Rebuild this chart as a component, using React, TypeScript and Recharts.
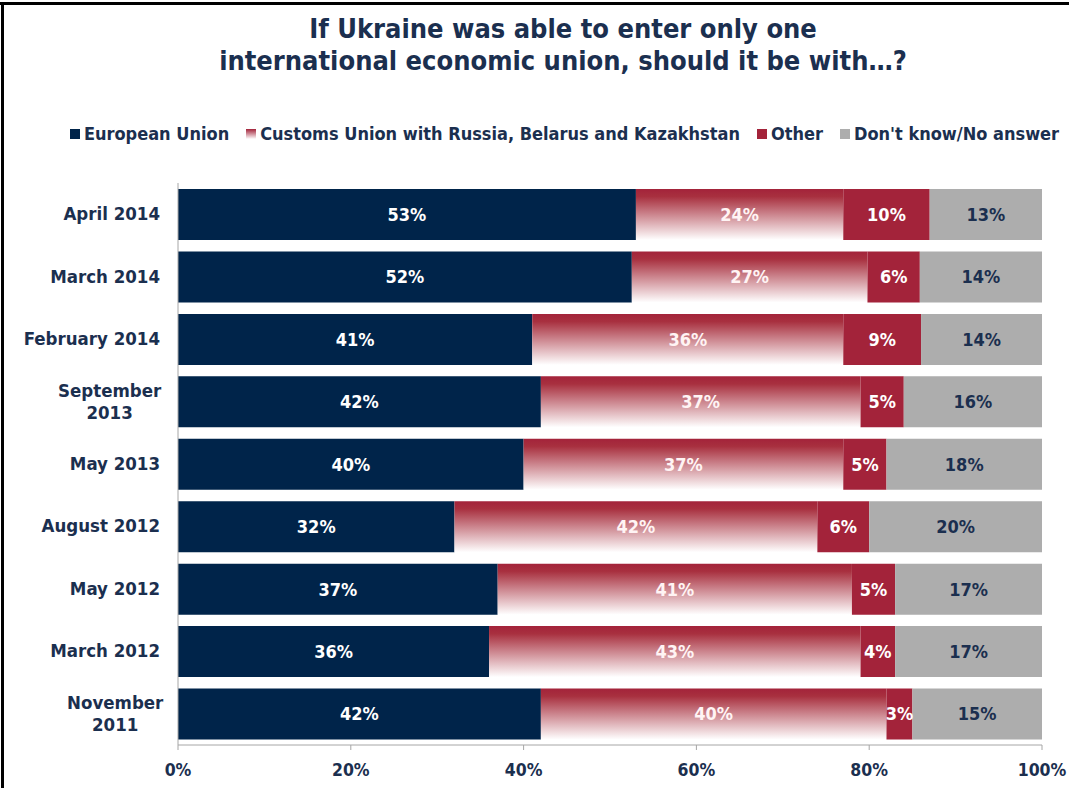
import { BarChart, Bar, XAxis, YAxis, LabelList } from "recharts"

const periods = [
  "April 2014",
  "March 2014",
  "February 2014",
  "September\n2013",
  "May 2013",
  "August 2012",
  "May 2012",
  "March 2012",
  "November\n2011",
]
const euValues = [53, 52, 41, 42, 40, 32, 37, 36, 42]
const customsValues = [24, 27, 36, 37, 37, 42, 41, 43, 40]
const otherValues = [10, 6, 9, 5, 5, 6, 5, 4, 3]
const dontKnowValues = [13, 14, 14, 16, 18, 20, 17, 17, 15]
const xTicks = [0, 0.2, 0.4, 0.6, 0.8, 1]

const seriesNames = [
  "European Union",
  "Customs Union with Russia, Belarus and Kazakhstan",
  "Other",
  "Don't know/No answer",
]

const data = periods.map((period, i) => ({
  period,
  eu: euValues[i],
  customs: customsValues[i],
  other: otherValues[i],
  dontKnow: dontKnowValues[i],
}))

const FONT = '"DejaVu Sans Condensed", "DejaVu Sans", sans-serif'
const NAVY = "#1b2f4f"
const EU_COLOR = "#00244a"
const RED = "#a3233a"
const GREY = "#adadad"

const pct = (v: any) => `${v}%`

function PeriodTick({ x, y, payload }: any) {
  const lines = String(payload.value).split("\n")
  if (lines.length === 1) {
    return (
      <text x={x} y={y} dy={6} textAnchor="end" fill={NAVY} fontSize={18.5} fontWeight="bold" fontFamily={FONT}>
        {payload.value}
      </text>
    )
  }
  const cx = x - lines[0].length * 5.6
  return (
    <text x={cx} y={y} textAnchor="middle" fill={NAVY} fontSize={18.5} fontWeight="bold" fontFamily={FONT}>
      {lines.map((l, k) => (
        <tspan key={k} x={cx} dy={k === 0 ? -5 : 22}>
          {l}
        </tspan>
      ))}
    </text>
  )
}

function Legend() {
  const swatches = [EU_COLOR, "url(#swatchGrad)", RED, GREY]
  return (
    <div
      style={{
        position: "absolute",
        top: 123,
        left: 60,
        width: 1009,
        display: "flex",
        justifyContent: "center",
        gap: 17,
        fontFamily: FONT,
        fontWeight: "bold",
        fontSize: 18,
        color: NAVY,
        whiteSpace: "nowrap",
      }}
    >
      {seriesNames.map((name, i) => (
        <div key={name} style={{ display: "flex", alignItems: "center", gap: 4 }}>
          <svg width={10} height={10}>
            <defs>
              <linearGradient id="swatchGrad" x1="0" y1="0" x2="0" y2="1">
                <stop offset="0" stopColor={RED} />
                <stop offset="1" stopColor="#ffffff" />
              </linearGradient>
            </defs>
            <rect width={10} height={10} fill={swatches[i]} />
          </svg>
          <span>{name}</span>
        </div>
      ))}
    </div>
  )
}

export default function App() {
  return (
    <div style={{ position: "absolute", top: 0, left: 0, width: 1069, height: 788, background: "#fff", overflow: "hidden" }}>
      <div style={{ position: "absolute", top: 2, left: 0, width: 1069, height: 3, background: "#000" }} />
      <div style={{ position: "absolute", top: 2, left: 1, width: 3, height: 786, background: "#000" }} />
      <div
        style={{
          position: "absolute",
          top: 13,
          left: 163,
          width: 800,
          textAlign: "center",
          fontFamily: FONT,
          fontWeight: "bold",
          fontSize: 27,
          lineHeight: "32px",
          color: NAVY,
        }}
      >
        If Ukraine was able to enter only one
        <br />
        international economic union, should it be with…?
      </div>
      <Legend />
      <BarChart
        width={1069}
        height={788}
        data={data}
        layout="vertical"
        stackOffset="expand"
        margin={{ top: 183, right: 27, bottom: 0, left: 0 }}
        style={{ position: "absolute", top: 0, left: 0 }}
      >
        <defs>
          <linearGradient id="customsGrad" x1="0" y1="0" x2="0" y2="1">
            <stop offset="0" stopColor={RED} />
            <stop offset="0.15" stopColor="#a8303f" />
            <stop offset="1" stopColor="#ffffff" />
          </linearGradient>
        </defs>
        <XAxis
          type="number"
          domain={[0, 1]}
          ticks={xTicks}
          tickFormatter={(v: number) => `${Math.round(v * 100)}%`}
          stroke="#a6a6a6"
          tickSize={5}
          tickMargin={14}
          tick={{ fill: NAVY, fontSize: 17.5, fontWeight: "bold", fontFamily: FONT }}
          height={43}
        />
        <YAxis
          type="category"
          dataKey="period"
          width={178}
          stroke="#a6a6a6"
          tickLine={false}
          tick={(props: any) => <PeriodTick {...props} x={160} />}
        />
        <Bar dataKey="eu" stackId="a" fill={EU_COLOR} barSize={51} isAnimationActive={false}>
          <LabelList dataKey="eu" position="center" formatter={pct} fill="#ffffff" fontSize={18} fontWeight="bold" fontFamily={FONT} />
        </Bar>
        <Bar dataKey="customs" stackId="a" fill="url(#customsGrad)" barSize={51} isAnimationActive={false}>
          <LabelList dataKey="customs" position="center" formatter={pct} fill="#fff4f4" fontSize={18} fontWeight="bold" fontFamily={FONT} />
        </Bar>
        <Bar dataKey="other" stackId="a" fill={RED} barSize={51} isAnimationActive={false}>
          <LabelList dataKey="other" position="center" formatter={pct} fill="#ffffff" fontSize={18} fontWeight="bold" fontFamily={FONT} />
        </Bar>
        <Bar dataKey="dontKnow" stackId="a" fill={GREY} barSize={51} isAnimationActive={false}>
          <LabelList dataKey="dontKnow" position="center" formatter={pct} fill={NAVY} fontSize={18} fontWeight="bold" fontFamily={FONT} />
        </Bar>
      </BarChart>
    </div>
  )
}
